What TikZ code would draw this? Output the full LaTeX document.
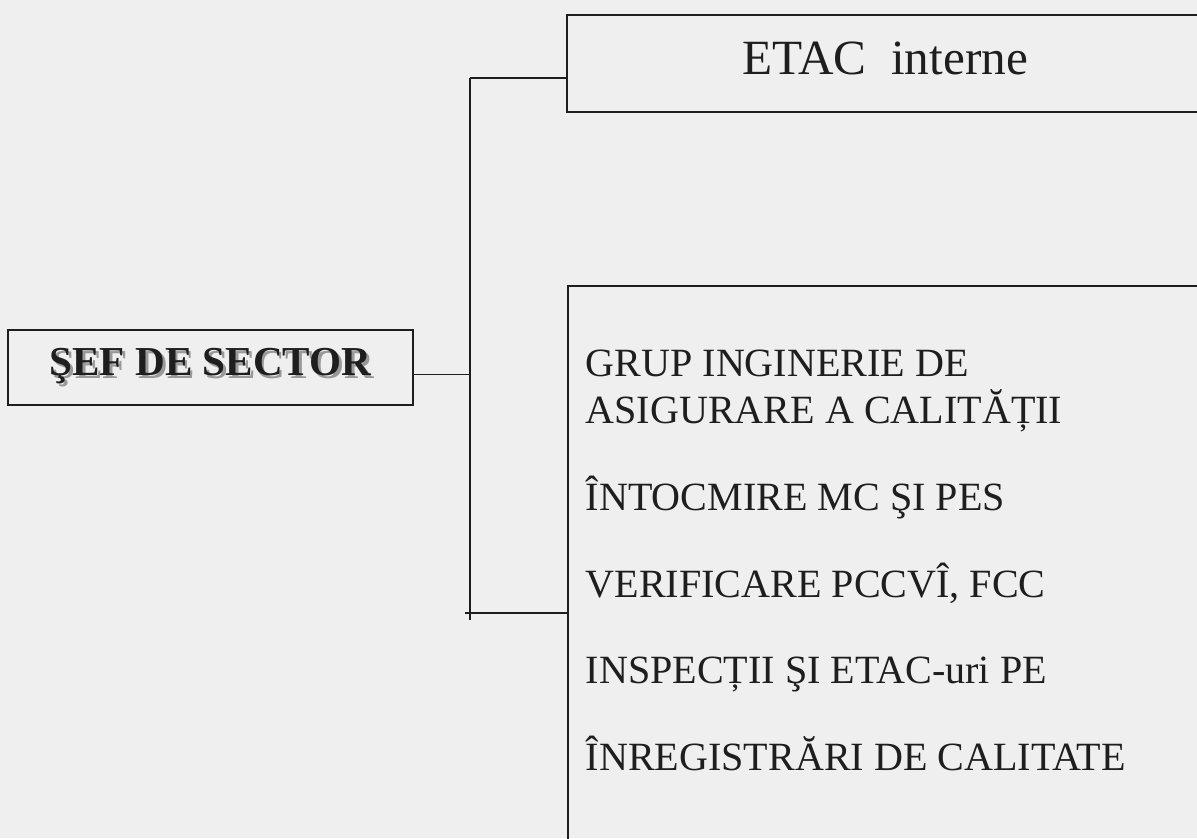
\documentclass[tikz,border=0pt]{standalone}
\usepackage{fontspec}
\setmainfont{Liberation Serif}
\usetikzlibrary{calc}

\definecolor{paper}{RGB}{239,239,240}
\definecolor{ink}{RGB}{30,30,30}
\newcommand{\shadowed}[1]{\makebox[0pt][l]{\hspace{0.8pt}\raisebox{-0.8pt}{\textcolor{gray!80}{#1}}}#1}

\begin{document}
\begin{tikzpicture}[x=0.01cm, y=0.01cm,
    every node/.style={text=ink},
    box/.style={draw=ink, line width=0.6pt, rectangle, inner sep=0pt},
    link/.style={draw=ink, line width=0.55pt}]
    \useasboundingbox (0,0) rectangle (1197,838);
    \fill[paper] (0,0) rectangle (1197,838);
    \clip (0,0) rectangle (1197,838);

    %%%%%%%%%%%%%%%%%%%%%%%%%%%%%%%%%%%%
    % boxes
    %%%%%%%%%%%%%%%%%%%%%%%%%%%%%%%%%%%%
    \node[box, minimum width=4.05cm, minimum height=0.75cm, font=\fontsize{11.7}{14}\selectfont\bfseries] (sef) at (210.5,470.5) {\shadowed{ŞEF DE SECTOR}};
    \node[box, minimum width=6.36cm, minimum height=0.97cm, font=\fontsize{14}{17}\selectfont] (etac) at (885,774.5) {\raisebox{3pt}{ETAC~ interne}};
    \node[box, anchor=north west, minimum width=6.36cm, minimum height=6.5cm] (qbox) at (567,553) {};
    \node[anchor=north west, align=left, inner sep=0pt, font=\fontsize{11.4}{13.4}\selectfont] (qlist) at (585,489)
    {
        GRUP INGINERIE DE\\
        ASIGURARE A CALITĂȚII\\[11.3pt]
        ÎNTOCMIRE MC ŞI PES\\[11.3pt]
        VERIFICARE PCCVÎ, FCC\\[11.3pt]
        INSPECȚII ŞI ETAC-uri PE\\[11.3pt]
        ÎNREGISTRĂRI DE CALITATE
    };

    %%%%%%%%%%%%%%%%%%%%%%%%%%%%%%%%%%%%
    % connectors
    %%%%%%%%%%%%%%%%%%%%%%%%%%%%%%%%%%%%
    \coordinate (jtop) at (470,760);
    \coordinate (jbot) at (465,225);
    \coordinate (jend) at (470,218);
    \draw[link] ([yshift=-0.07cm]sef.east) -- ([yshift=-0.07cm]sef.east -| jtop);
    \draw[link] (jtop) -- (jend);
    \draw[link] (jtop) -- (jtop -| etac.west);
    \draw[link] (jbot) -- (jbot -| qbox.west);
\end{tikzpicture}
\end{document}
